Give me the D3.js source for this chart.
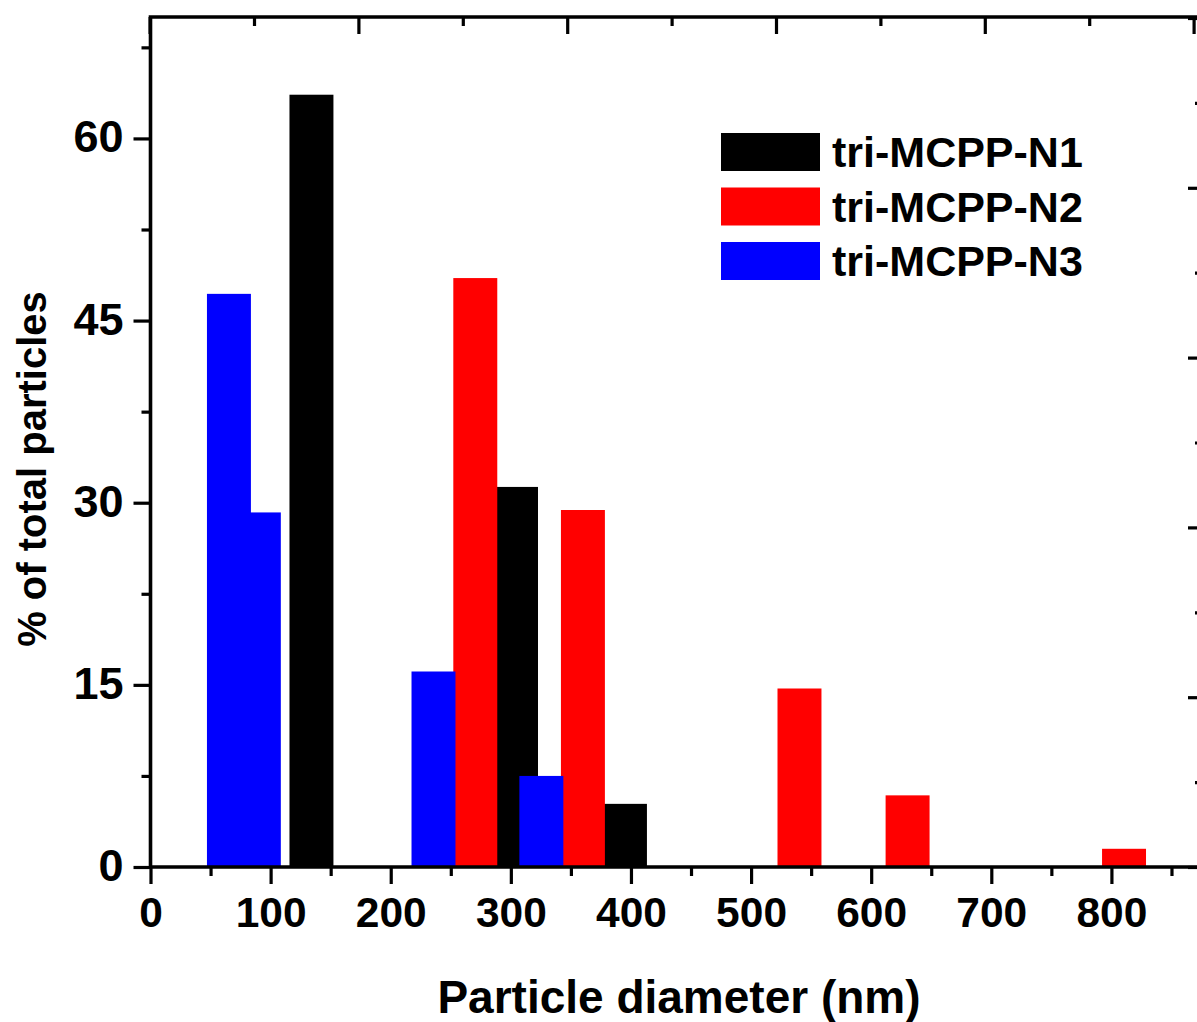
<!DOCTYPE html>
<html>
<head>
<meta charset="utf-8">
<script src="https://cdn.jsdelivr.net/npm/d3@7/dist/d3.min.js"></script>
<style>
  html, body { margin: 0; padding: 0; background: #fff; }
  svg { display: block; }
  text { font-family: "Liberation Sans", Arial, sans-serif; font-weight: bold; fill: #000; }
</style>
</head>
<body>
<svg id="chart" width="1197" height="1022"></svg>
<script>
// ---- data ----
const seriesNames = ["tri-MCPP-N1", "tri-MCPP-N2", "tri-MCPP-N3"];
const seriesColors = ["#000000", "#ff0000", "#0000ff"];
const binWidth = 36.6; // nm
const n1Centers = [134, 304.3, 395];
const n1Values  = [63.6, 31.3, 5.2];
const n2Centers = [270.4, 360, 540.3, 630.3, 810.5];
const n2Values  = [48.5, 29.4, 14.7, 5.9, 1.5];
const n3Centers = [65.3, 90.2, 235.6, 325.4];
const n3Values  = [47.2, 29.2, 16.1, 7.5];
const xTickValues = [0, 100, 200, 300, 400, 500, 600, 700, 800];
const yTickValues = [0, 15, 30, 45, 60];
const xTitle = "Particle diameter (nm)";
const yTitle = "% of total particles";

(function () {
// ---- layout ----
const svg = d3.select("#chart");
const pL = 150.5, pR = 1200, pT = 17, pB = 867;
const x = d3.scaleLinear().domain([0, 870]).range([pL, 1195.5]);
const y = d3.scaleLinear().domain([0, 70]).range([pB, pT]);
// secondary (decorative) top / right axis scales of the original layered plot
const xTop = d3.scaleLinear().domain([0, 10]).range([149.6, 1193.6]);
const yRight = d3.scaleLinear().domain([0, 10]).range([pB, 18]);

const series = [
  { name: seriesNames[0], color: seriesColors[0], c: n1Centers, v: n1Values },
  { name: seriesNames[1], color: seriesColors[1], c: n2Centers, v: n2Values },
  { name: seriesNames[2], color: seriesColors[2], c: n3Centers, v: n3Values }
];

// ---- bars (black, then red, then blue on top) ----
series.forEach(s => {
  svg.append("g").selectAll("rect")
    .data(s.c.map((c, i) => ({ c, v: s.v[i] })))
    .join("rect")
    .attr("x", d => x(d.c - binWidth / 2))
    .attr("width", d => x(d.c + binWidth / 2) - x(d.c - binWidth / 2))
    .attr("y", d => y(d.v))
    .attr("height", d => y(0) - y(d.v))
    .attr("fill", s.color);
});

const tickStroke = 3.2;
const axisStroke = 3.6;

function styleAxis(g) {
  g.select(".domain").remove();
  g.selectAll(".tick line").attr("stroke", "#000").attr("stroke-width", tickStroke);
}
function styleText(g, size) {
  g.selectAll("text").attr("font-size", size)
    .attr("font-family", "Liberation Sans, Arial, sans-serif")
    .attr("font-weight", "bold").attr("fill", "#000");
}

// bottom axis
const xMinor = d3.range(50, 870, 100);
svg.append("g").attr("transform", `translate(0,${pB})`)
  .call(d3.axisBottom(x).tickValues(xTickValues).tickSize(17).tickPadding(13).tickFormat(d3.format("d")))
  .call(styleAxis)
  .call(g => styleText(g, 42.5));
svg.append("g").attr("transform", `translate(0,${pB})`)
  .call(d3.axisBottom(x).tickValues(xMinor).tickSize(9).tickFormat(""))
  .call(styleAxis);

// left axis
const yMinor = d3.range(7.5, 70, 15);
svg.append("g").attr("transform", `translate(${pL},0)`)
  .call(d3.axisLeft(y).tickValues(yTickValues).tickSize(17).tickPadding(10).tickFormat(d3.format("d")))
  .call(styleAxis)
  .call(g => styleText(g, 45))
  .call(g => g.selectAll("text").attr("dy", "0.3em"));
svg.append("g").attr("transform", `translate(${pL},0)`)
  .call(d3.axisLeft(y).tickValues(yMinor).tickSize(9).tickFormat(""))
  .call(styleAxis);

// top axis (ticks inward)
svg.append("g").attr("transform", `translate(0,${pT})`)
  .call(d3.axisBottom(xTop).tickValues(d3.range(0, 11, 2)).tickSize(17).tickFormat(""))
  .call(styleAxis);
svg.append("g").attr("transform", `translate(0,${pT})`)
  .call(d3.axisBottom(xTop).tickValues(d3.range(1, 10, 2)).tickSize(9).tickFormat(""))
  .call(styleAxis);

// right axis (ticks inward)
svg.append("g").attr("transform", `translate(${pR},0)`)
  .call(d3.axisLeft(yRight).tickValues(d3.range(0, 11, 2)).tickSize(12).tickFormat(""))
  .call(styleAxis);
svg.append("g").attr("transform", `translate(${pR},0)`)
  .call(d3.axisLeft(yRight).tickValues(d3.range(1, 10, 2)).tickSize(5).tickFormat(""))
  .call(styleAxis);

// frame lines
svg.append("path")
  .attr("d", `M${pL},${pB} V${pT} H${pR} V${pB} H${pL}`)
  .attr("fill", "none").attr("stroke", "#000").attr("stroke-width", axisStroke)
  .attr("stroke-linecap", "square");

// axis titles
svg.append("text")
  .attr("x", (437 + 921) / 2).attr("y", 1013)
  .attr("text-anchor", "middle").attr("font-size", 46)
  .text(xTitle);
svg.append("text")
  .attr("transform", "translate(46,469) rotate(-90)")
  .attr("text-anchor", "middle").attr("font-size", 40)
  .text(yTitle);

// legend
const legend = svg.append("g");
series.forEach((s, i) => {
  const cy = 152 + i * 54.5;
  legend.append("rect")
    .attr("x", 721).attr("y", cy - 19).attr("width", 99).attr("height", 38)
    .attr("fill", s.color);
  legend.append("text")
    .attr("x", 832).attr("y", cy + 15)
    .attr("font-size", 43)
    .text(s.name);
});
})();
</script>
</body>
</html>
